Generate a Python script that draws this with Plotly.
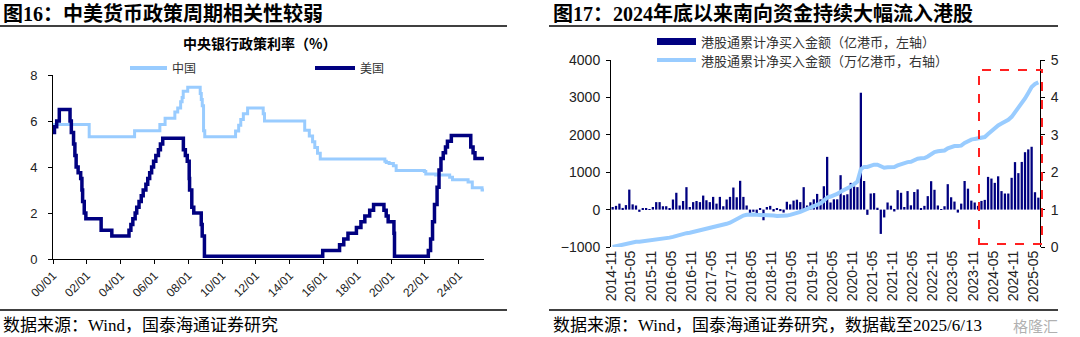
import plotly.graph_objects as go
import pandas as pd

# ---------------- Fig 16 data: central bank policy rates (%) ----------------
cn_dates = ["2000-01-01", "2002-02-21", "2004-10-29", "2006-04-28", "2006-08-19", "2007-03-18",
            "2007-05-19", "2007-07-21", "2007-08-22", "2007-09-15", "2007-12-21", "2008-09-16",
            "2008-10-09", "2008-10-30", "2008-11-27", "2008-12-23", "2010-10-20", "2010-12-26",
            "2011-02-09", "2011-04-06", "2011-07-07", "2012-06-08", "2012-07-06", "2014-11-22",
            "2015-03-01", "2015-05-11", "2015-06-28", "2015-08-26", "2015-10-24", "2019-08-20",
            "2019-09-20", "2019-11-20", "2020-02-20", "2020-04-20", "2021-12-20", "2022-01-20",
            "2022-08-22", "2023-06-20", "2023-08-21", "2024-07-22", "2024-10-21", "2025-05-20",
            "2025-06-30"]
cn_rate = [5.85, 5.31, 5.58, 5.85, 6.12, 6.39, 6.57, 6.84, 7.02, 7.29, 7.47, 7.20,
           6.93, 6.66, 5.58, 5.31, 5.56, 5.81, 6.06, 6.31, 6.56, 6.31, 6.00, 5.60,
           5.35, 5.10, 4.85, 4.60, 4.35, 4.25, 4.20, 4.15, 4.05, 3.85, 3.80, 3.70,
           3.65, 3.55, 3.45, 3.35, 3.10, 3.00, 3.00]

us_dates = ["2000-01-01", "2000-02-02", "2000-03-21", "2000-05-16", "2001-01-03", "2001-01-31",
            "2001-03-20", "2001-04-18", "2001-05-15", "2001-06-27", "2001-08-21", "2001-09-17",
            "2001-10-02", "2001-11-06", "2001-12-11", "2002-11-06", "2003-06-25", "2004-06-30",
            "2004-08-10", "2004-09-21", "2004-11-10", "2004-12-14", "2005-02-02", "2005-03-22",
            "2005-05-03", "2005-06-30", "2005-08-09", "2005-09-20", "2005-11-01", "2005-12-13",
            "2006-01-31", "2006-03-28", "2006-05-10", "2006-06-29", "2007-09-18", "2007-10-31",
            "2007-12-11", "2008-01-22", "2008-01-30", "2008-03-18", "2008-04-30", "2008-10-08",
            "2008-10-29", "2008-12-16", "2015-12-16", "2016-12-14", "2017-03-15", "2017-06-14",
            "2017-12-13", "2018-03-21", "2018-06-13", "2018-09-26", "2018-12-19", "2019-07-31",
            "2019-09-18", "2019-10-30", "2020-03-03", "2020-03-15", "2022-03-16", "2022-05-04",
            "2022-06-15", "2022-07-27", "2022-09-21", "2022-11-02", "2022-12-14", "2023-02-01",
            "2023-03-22", "2023-05-03", "2023-07-26", "2024-09-18", "2024-11-07", "2024-12-18",
            "2025-06-30"]
us_rate = [5.50, 5.75, 6.00, 6.50, 6.00, 5.50, 5.00, 4.50, 4.00, 3.75, 3.50, 3.00,
           2.50, 2.00, 1.75, 1.25, 1.00, 1.25, 1.50, 1.75, 2.00, 2.25, 2.50, 2.75,
           3.00, 3.25, 3.50, 3.75, 4.00, 4.25, 4.50, 4.75, 5.00, 5.25, 4.75, 4.50,
           4.25, 3.50, 3.00, 2.25, 2.00, 1.50, 1.00, 0.125, 0.375, 0.625, 0.875, 1.125,
           1.375, 1.625, 1.875, 2.125, 2.375, 2.125, 1.875, 1.625, 1.125, 0.125, 0.375, 0.875,
           1.625, 2.375, 3.125, 3.875, 4.375, 4.625, 4.875, 5.125, 5.375, 4.875, 4.625, 4.375,
           4.375]

fig16_tickvals = ["2000-01-01", "2002-01-01", "2004-01-01", "2006-01-01", "2008-01-01",
                  "2010-01-01", "2012-01-01", "2014-01-01", "2016-01-01", "2018-01-01",
                  "2020-01-01", "2022-01-01", "2024-01-01"]
fig16_ticktext = ["00/01", "02/01", "04/01", "06/01", "08/01", "10/01", "12/01",
                  "14/01", "16/01", "18/01", "20/01", "22/01", "24/01"]

# ---------------- Fig 17 data: Southbound connect net buying ----------------
months = [d.strftime("%Y-%m") for d in pd.date_range("2014-11-01", periods=128, freq="MS")]
# monthly net buying (100m HKD, left axis)
monthly_net = [70, 100, 160, 45, 120, 535, 140, 110, -60, 30, 40, 10,
               70, 200, 200, 90, 90, 30, 270, 450, 110, 230, 600, 70,
               200, 230, 200, 375, 250, 200, 340, 160, 340, 90, 270, 340,
               590, 330, 770, 340, 110, -110, -60, -100, 20, -285, 70, 100,
               -50, 40, -40, -80, 210, 140, 240, 265, 200, 600, 110, 195,
               275, 420, 275, 625, 1410, 190, 275, 275, 920, 385, 410, 715,
               620, 600, 3125, 765, -140, 430, 440, 50, -650, -210, 190, 105,
               -50, 520, 450, 70, 495, 115, 470, 540, 25, 100, 360, 760,
               530, 110, 10, 90, 680, 330, 215, -80, 160, 765, 560, 240,
               190, 100, 232, 260, 875, 830, 715, 890, 495, 430, 430, 850,
               1270, 975, 1275, 1535, 1610, 1680, 465, 320]
# cumulative net buying (trillion HKD, right axis)
cum_net = [0.00, 0.02, 0.04, 0.06, 0.08, 0.11, 0.13, 0.14, 0.14, 0.15, 0.16, 0.17,
           0.18, 0.19, 0.21, 0.22, 0.24, 0.25, 0.27, 0.30, 0.32, 0.34, 0.37, 0.38,
           0.40, 0.42, 0.44, 0.47, 0.50, 0.52, 0.54, 0.56, 0.58, 0.59, 0.62, 0.65,
           0.70, 0.74, 0.80, 0.84, 0.86, 0.87, 0.87, 0.86, 0.86, 0.84, 0.84, 0.84,
           0.84, 0.83, 0.83, 0.83, 0.84, 0.86, 0.88, 0.90, 0.94, 0.98, 1.02, 1.05,
           1.08, 1.12, 1.17, 1.24, 1.32, 1.35, 1.38, 1.42, 1.48, 1.52, 1.57, 1.62,
           1.68, 1.75, 2.08, 2.14, 2.14, 2.17, 2.20, 2.20, 2.15, 2.12, 2.13, 2.14,
           2.14, 2.18, 2.22, 2.23, 2.27, 2.28, 2.32, 2.36, 2.37, 2.38, 2.42, 2.48,
           2.54, 2.56, 2.57, 2.58, 2.64, 2.68, 2.70, 2.70, 2.71, 2.78, 2.84, 2.87,
           2.89, 2.90, 2.92, 2.94, 3.02, 3.10, 3.18, 3.25, 3.30, 3.34, 3.40, 3.48,
           3.60, 3.70, 3.82, 3.97, 4.12, 4.28, 4.36, 4.40]

fig17_ticks = ["2014-11", "2015-05", "2015-11", "2016-05", "2016-11", "2017-05", "2017-11",
               "2018-05", "2018-11", "2019-05", "2019-11", "2020-05", "2020-11", "2021-05",
               "2021-11", "2022-05", "2022-11", "2023-05", "2023-11", "2024-05", "2024-11",
               "2025-05"]

NAVY = "#000080"
LIGHT = "#99CCFF"
W, H = 1080, 337


def px(x):
    return x / W


def py(y):
    return 1 - y / H


AX_FONT = "Liberation Sans, Arial, sans-serif"
CJK = "Noto Sans CJK SC, sans-serif"
SERIF = "Liberation Serif, Noto Sans CJK SC, serif"

fig = go.Figure()

# Fig 16 lines
fig.add_trace(go.Scatter(x=cn_dates, y=cn_rate, mode="lines", line=dict(color=LIGHT, width=3, shape="hv"),
                         name="中国", xaxis="x", yaxis="y"))
fig.add_trace(go.Scatter(x=us_dates, y=us_rate, mode="lines", line=dict(color=NAVY, width=3.5, shape="hv"),
                         name="美国", xaxis="x", yaxis="y"))

# Fig 17 bars + cumulative line
fig.add_trace(go.Bar(x=months, y=monthly_net, marker=dict(color=NAVY, line=dict(width=0)),
                     xperiod="M1", xperiodalignment="middle",
                     name="港股通累计净买入金额（亿港币，左轴）", xaxis="x2", yaxis="y2"))
fig.add_trace(go.Scatter(x=months, y=cum_net, mode="lines", line=dict(color=LIGHT, width=4),
                         xperiod="M1", xperiodalignment="middle",
                         name="港股通累计净买入金额（万亿港币，右轴）", xaxis="x2", yaxis="y3"))

y2_dom = [py(247), py(60)]
zero_pos = y2_dom[0] + (0 - (-1000)) / 5000 * (y2_dom[1] - y2_dom[0])

common_tick = dict(ticks="outside", ticklen=4, tickcolor="black", showline=True, linecolor="black",
                   linewidth=1, showgrid=False, zeroline=False, automargin=False)

fig.update_layout(
    width=W, height=H, margin=dict(l=0, r=0, t=0, b=0, autoexpand=False),
    paper_bgcolor="white", plot_bgcolor="white", showlegend=False, bargap=0.3,
    xaxis=dict(domain=[px(53), px(484)], anchor="y", type="date", range=["2000-01-01", "2025-07-01"],
               tickmode="array", tickvals=fig16_tickvals, ticktext=fig16_ticktext, tickangle=-45,
               tickfont=dict(family=AX_FONT, size=12, color="#222"), **common_tick),
    yaxis=dict(domain=[py(259), py(75)], anchor="x", range=[0, 8], dtick=2, ticklabelstandoff=8,
               tickfont=dict(family=AX_FONT, size=13, color="#222"), **common_tick),
    xaxis2=dict(domain=[px(611), px(1040)], anchor="y2", type="date", range=["2014-11-01", "2025-07-01"],
                tickmode="array", tickvals=fig17_ticks, ticktext=fig17_ticks, tickangle=-90,
                ticks="", showline=False, showgrid=False, zeroline=False, automargin=False,
                tickfont=dict(family=AX_FONT, size=14, color="#222")),
    xaxis3=dict(overlaying="x2", anchor="free", position=zero_pos, type="date",
                range=["2014-11-01", "2025-07-01"], tickmode="array", tickvals=fig17_ticks,
                showticklabels=False, **common_tick),
    yaxis2=dict(domain=y2_dom, anchor="x2", range=[-1000, 4000], dtick=1000, ticklabelstandoff=3,
                tickfont=dict(family=AX_FONT, size=14, color="#222"), **common_tick),
    yaxis3=dict(overlaying="y2", anchor="x2", side="right", range=[0, 5], dtick=1, ticklabelstandoff=3,
                tickfont=dict(family=AX_FONT, size=14, color="#222"), **common_tick),
)

shapes = []
annotations = []

# heading rules
for x0, x1 in [(0, 507), (549, 1058)]:
    shapes.append(dict(type="line", xref="paper", yref="paper", x0=px(x0), x1=px(x1), y0=py(26), y1=py(26),
                       line=dict(color="black", width=1.5)))
    shapes.append(dict(type="line", xref="paper", yref="paper", x0=px(x0), x1=px(x1), y0=py(310), y1=py(310),
                       line=dict(color="black", width=1.5)))

# headings
annotations.append(dict(text="<b>图16：中美货币政策周期相关性较弱</b>", x=px(1), y=py(13), xref="paper",
                        yref="paper", xanchor="left", yanchor="middle", showarrow=False,
                        font=dict(family=SERIF, size=20, color="black")))
annotations.append(dict(text="<b>图17：2024年底以来南向资金持续大幅流入港股</b>", x=px(551), y=py(13),
                        xref="paper", yref="paper", xanchor="left", yanchor="middle", showarrow=False,
                        font=dict(family=SERIF, size=20, color="black")))
# sources
annotations.append(dict(text="数据来源：Wind，国泰海通证券研究", x=px(1), y=py(325), xref="paper",
                        yref="paper", xanchor="left", yanchor="middle", showarrow=False,
                        font=dict(family=SERIF, size=17, color="black")))
annotations.append(dict(text="数据来源：Wind，国泰海通证券研究，数据截至2025/6/13", x=px(551), y=py(325),
                        xref="paper", yref="paper", xanchor="left", yanchor="middle", showarrow=False,
                        font=dict(family=SERIF, size=17, color="black")))
# watermark
annotations.append(dict(text="格隆汇", x=px(1060), y=py(325), xref="paper", yref="paper", xanchor="right",
                        yanchor="middle", showarrow=False,
                        font=dict(family=CJK, size=15, color="rgba(150,150,150,0.75)")))

# Fig 16 chart title
annotations.append(dict(text="<b>中央银行政策利率（%）</b>", x=px(259), y=py(43), xref="paper", yref="paper",
                        xanchor="center", yanchor="middle", showarrow=False,
                        font=dict(family=CJK, size=14, color="black")))

# Fig 16 legend
for (x0, x1, col, label) in [(130, 167, LIGHT, "中国"), (315, 355, NAVY, "美国")]:
    shapes.append(dict(type="line", xref="paper", yref="paper", x0=px(x0), x1=px(x1), y0=py(68), y1=py(68),
                       line=dict(color=col, width=4)))
    annotations.append(dict(text=label, x=px(x1 + 3), y=py(68), xref="paper", yref="paper", xanchor="left",
                            yanchor="middle", showarrow=False, font=dict(family=CJK, size=12, color="#333")))

# Fig 17 legend
shapes.append(dict(type="rect", xref="paper", yref="paper", x0=px(657), x1=px(696), y0=py(45), y1=py(38),
                   fillcolor=NAVY, line=dict(width=0)))
annotations.append(dict(text="港股通累计净买入金额（亿港币，左轴）", x=px(699), y=py(41.5), xref="paper",
                        yref="paper", xanchor="left", yanchor="middle", showarrow=False,
                        font=dict(family=CJK, size=13, color="#333")))
shapes.append(dict(type="line", xref="paper", yref="paper", x0=px(657), x1=px(696), y0=py(60), y1=py(60),
                   line=dict(color=LIGHT, width=4)))
annotations.append(dict(text="港股通累计净买入金额（万亿港币，右轴）", x=px(699), y=py(60), xref="paper",
                        yref="paper", xanchor="left", yanchor="middle", showarrow=False,
                        font=dict(family=CJK, size=13, color="#333")))

# red dashed highlight box
shapes.append(dict(type="rect", xref="paper", yref="paper", x0=px(979), x1=px(1042), y0=py(244), y1=py(70),
                   line=dict(color="#FF2020", width=2, dash="dash"), fillcolor="rgba(0,0,0,0)"))

fig.update_layout(shapes=shapes, annotations=annotations)

fig.write_html("out.html")
